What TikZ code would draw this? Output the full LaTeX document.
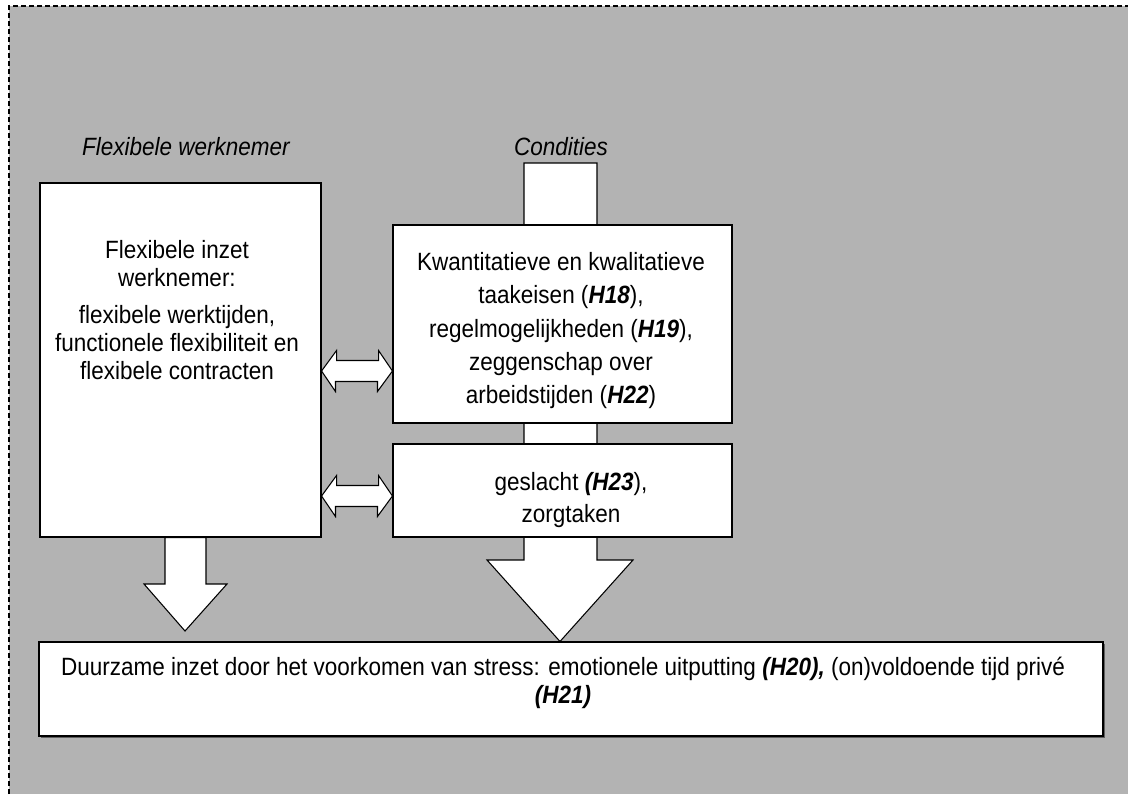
\documentclass[tikz,border=0pt]{standalone}
\usepackage{fontspec}
\setmainfont{Liberation Sans}[FakeStretch=0.9]
\usetikzlibrary{fit,shadows}
\definecolor{panelgray}{RGB}{179,179,179}
\definecolor{shadowgray}{RGB}{95,95,95}
\newcommand\hyp[1]{\textbf{\textit{#1}}}
\pgfdeclarelayer{back}
\pgfdeclarelayer{mid}
\pgfsetlayers{back,mid,main}

\begin{document}
\begin{tikzpicture}[x=0.75pt,y=-0.75pt,
  box/.style={draw=black,line width=0.8pt,fill=white,inner sep=0pt},
  blk/.style={draw=black,line width=0.8pt,fill=white,line join=miter},
  body/.style={align=center,inner sep=0pt,anchor=north},
  head/.style={font=\fontsize{18.75pt}{21pt}\selectfont\itshape,anchor=base,inner sep=0pt}]
\useasboundingbox (0,0) rectangle (1128,794);

% boxes
\node[box,fit={(40,183) (321,537)}] (lbox) {};
\node[box,fit={(393,225) (732,423)}] (ubox) {};
\node[box,fit={(393,444) (732,537)}] (gbox) {};
\node[box,fit={(39,642) (1103,736)},
  drop shadow={shadow xshift=1.5pt,shadow yshift=-1.5pt,fill=shadowgray,opacity=1}] (bbox) {};

% headings
\node[head] (lhead) at (186,155) {Flexibele werknemer};
\node[head] (chead) at (561,155) {Condities};

% box texts
\node[body,font=\fontsize{18.75pt}{21pt}\selectfont] (ltext) at (177,240)
  {Flexibele inzet\\werknemer:\\[7pt]flexibele werktijden,\\functionele flexibiliteit en\\flexibele contracten};
\node[body,font=\fontsize{18.75pt}{25pt}\selectfont] (utext) at (561,252)
  {Kwantitatieve en kwalitatieve\\taakeisen (\hyp{H18}),\\regelmogelijkheden (\hyp{H19}),\\zeggenschap over\\arbeidstijden (\hyp{H22})};
\node[body,font=\fontsize{18.75pt}{24pt}\selectfont] (gtext) at (571,472)
  {geslacht \hyp{(H23}),\\zorgtaken};
\node[body,font=\fontsize{18.75pt}{21pt}\selectfont] (btext) at (563,657)
  {Duurzame inzet door het voorkomen van stress: emotionele uitputting \hyp{(H20),} (on)voldoende tijd privé\\\hyp{(H21)}};

% panel background with dashed frame
\begin{pgfonlayer}{back}
  \fill[panelgray] (9,6) rectangle (1128,794);
  \draw[line width=1pt,dash pattern=on 3.75pt off 2.25pt] (9,794) -- (9,6) -- (1128,6);
\end{pgfonlayer}

% block arrows behind the boxes
\begin{pgfonlayer}{mid}
  % Condities column down to the outcome box
  \draw[blk] (524,163) -- (597,163) -- (597,560) -- (633,560)
    -- (560,0 |- bbox.north) -- (487,560) -- (524,560) -- cycle;
  % flexible employee down to the outcome box
  \draw[blk] (165,0 |- lbox.south) -- (206,0 |- lbox.south) -- (206,584) -- (227,584)
    -- (185,631) -- (144,584) -- (165,584) -- cycle;
  % two-way arrows between the left box and the condition boxes
  \draw[blk] (lbox.east |- 0,371) -- ++(15,-20.5) -- ++(0,10) -- ++(42,0) -- ++(0,-10)
    -- (ubox.west |- 0,371) -- ++(-15,20.5) -- ++(0,-10) -- ++(-42,0) -- ++(0,10) -- cycle;
  \draw[blk] (lbox.east |- 0,496) -- ++(15,-20.5) -- ++(0,10) -- ++(42,0) -- ++(0,-10)
    -- (gbox.west |- 0,496) -- ++(-15,20.5) -- ++(0,-10) -- ++(-42,0) -- ++(0,10) -- cycle;
\end{pgfonlayer}
\end{tikzpicture}
\end{document}
